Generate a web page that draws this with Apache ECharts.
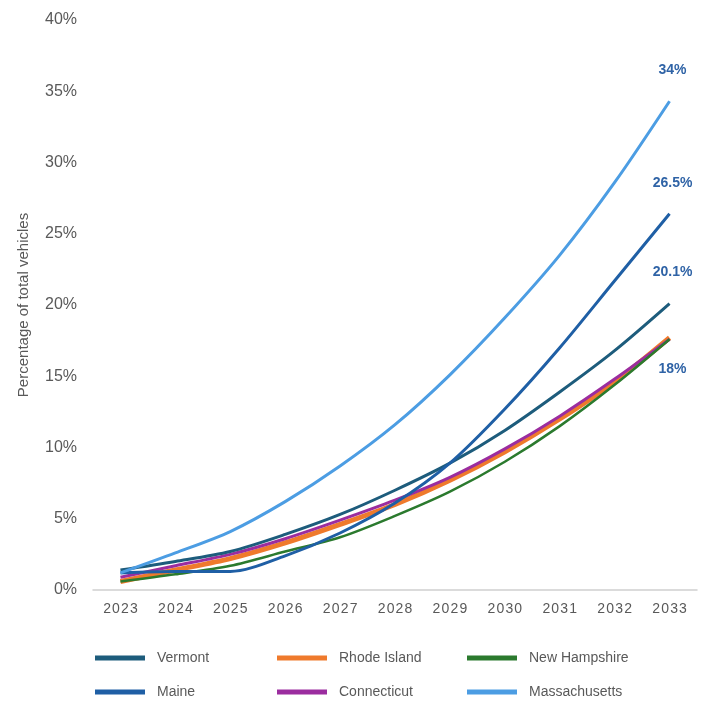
<!DOCTYPE html>
<html>
<head>
<meta charset="utf-8">
<script src="https://cdn.jsdelivr.net/npm/echarts@6/dist/echarts.min.js"></script>
<style>html,body{margin:0;padding:0;background:#fff}#c{width:702px;height:702px}</style>
</head>
<body>
<div id="c"></div>
<script>
const years = ['2023','2024','2025','2026','2027','2028','2029','2030','2031','2032','2033'];
const vermont = [1.4, 2.0, 2.7, 3.9, 5.3, 7.0, 8.9, 11.2, 13.9, 16.8, 20.1];
const rhodeIsland = [0.6, 1.4, 2.2, 3.3, 4.6, 6.0, 7.7, 9.7, 12.0, 14.6, 17.7];
const newHampshire = [0.6, 1.1, 1.7, 2.7, 3.7, 5.2, 6.9, 9.0, 11.5, 14.4, 17.6];
const maine = [1.2, 1.3, 1.3, 2.4, 4.0, 6.1, 8.9, 12.7, 17.0, 21.7, 26.4];
const connecticut = [0.9, 1.7, 2.5, 3.6, 4.9, 6.3, 7.9, 9.9, 12.2, 14.8, 17.6];
const massachusetts = [1.2, 2.6, 4.1, 6.2, 8.7, 11.6, 15.1, 19.1, 23.5, 28.6, 34.3];
const yTicks = [0, 5, 10, 15, 20, 25, 30, 35, 40];
const endLabels = {Massachusetts: '34%', Maine: '26.5%', Vermont: '20.1%', 'Rhode Island': '18%'};

const colors = {
  'Vermont': '#1d5c7c',
  'Rhode Island': '#ef7a2c',
  'New Hampshire': '#2b7a2e',
  'Maine': '#1f5fa5',
  'Connecticut': '#9b2d9f',
  'Massachusetts': '#4c9de3'
};
const widths = {'Vermont':3,'Rhode Island':5,'New Hampshire':2.5,'Maine':3,'Connecticut':3,'Massachusetts':3};
const FONT = 'Arial, Liberation Sans, sans-serif';

function mk(name, vals, z){
  const data = vals.map((v,i)=>{
    if (i === vals.length-1 && endLabels[name]) {
      const below = name === 'Rhode Island';
      return {value: v, label: {show: true, formatter: endLabels[name],
        position: below ? 'bottom' : 'top', distance: 24,
        offset: [3, 0],
        color: '#2f63a6', fontWeight: 'bold', fontSize: 14, fontFamily: FONT}};
    }
    return v;
  });
  return {name, type: 'line', data, smooth: 0.3, symbol: 'circle', symbolSize: 0, showSymbol: true, z,
    label: {show: false},
    lineStyle: {color: colors[name], width: widths[name]},
    itemStyle: {color: colors[name]}, emphasis: {disabled: true}};
}

const legendCommon = {icon: 'rect', itemWidth: 50, itemHeight: 5, itemGap: 10,
  textStyle: {color: '#595959', fontSize: 14, fontFamily: FONT, padding: [0,0,0,7]}, selectedMode: false};
const legendPos = [
  ['Vermont', 90, 646], ['Rhode Island', 272, 646], ['New Hampshire', 462, 646],
  ['Maine', 90, 680], ['Connecticut', 272, 680], ['Massachusetts', 462, 680]
];

const chart = echarts.init(document.getElementById('c'));
chart.setOption({
  animation: false,
  backgroundColor: '#fff',
  grid: {left: 93, right: 5, top: 20, bottom: 112},
  legend: legendPos.map(([n,x,y]) => Object.assign({}, legendCommon, {data: [n], left: x, top: y})),
  xAxis: {type: 'category', data: years, boundaryGap: true,
    axisLine: {lineStyle: {color: '#d0d0d0', width: 1.5}}, axisTick: {show: false},
    axisLabel: {color: '#595959', fontSize: 14, margin: 12, fontFamily: FONT,
      formatter: v => v.split('').join('\u200A')}},
  yAxis: {type: 'value', min: 0, max: 40, interval: 5,
    name: 'Percentage of total vehicles', nameLocation: 'middle', nameGap: 62, nameRotate: 90,
    nameTextStyle: {color: '#595959', fontSize: 15, fontFamily: FONT},
    axisLine: {show: false}, axisTick: {show: false}, splitLine: {show: false},
    axisLabel: {color: '#595959', fontSize: 16, margin: 16, fontFamily: FONT,
      formatter: v => yTicks.includes(v) ? v + '%' : ''}},
  series: [
    mk('Rhode Island', rhodeIsland, 2),
    mk('Connecticut', connecticut, 3),
    mk('New Hampshire', newHampshire, 4),
    mk('Vermont', vermont, 5),
    mk('Maine', maine, 6),
    mk('Massachusetts', massachusetts, 7)
  ]
});
</script>
</body>
</html>
